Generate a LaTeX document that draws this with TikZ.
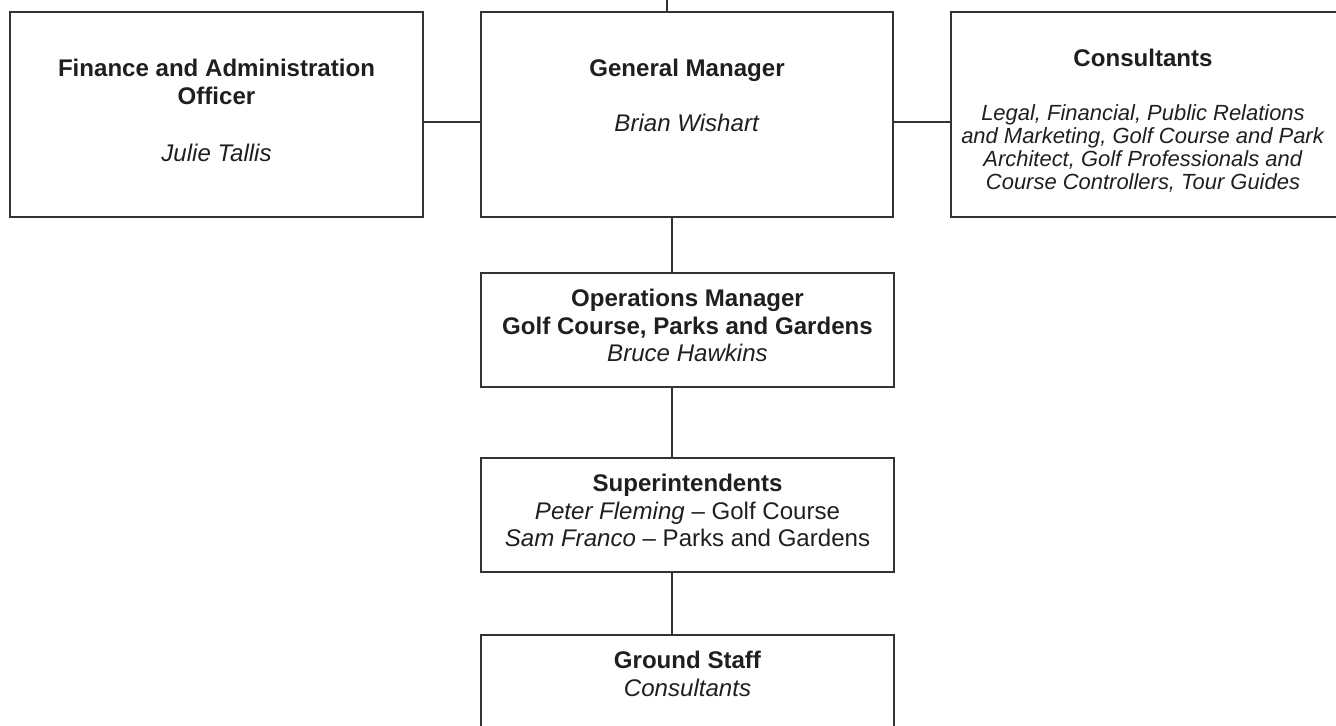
\documentclass[tikz,border=0pt]{standalone}
\usepackage{fontspec}
\setmainfont{Liberation Sans}
\usetikzlibrary{calc}

\tikzset{
  box/.style={draw=black!80, line width=1.2pt, rectangle, inner sep=0pt},
  link/.style={draw=black!80, line width=1pt},
  lbl/.style={anchor=north, inner sep=0pt, align=center, text=black!88,
    font=\fontsize{13.7}{15.6}\selectfont},
  small/.style={font=\fontsize{12.5}{13.1}\selectfont}
}

\begin{document}
\begin{tikzpicture}[x=0.02cm,y=-0.02cm]
\useasboundingbox (0,0) rectangle (1336,726);
\clip (0,0) rectangle (1336,726);

% top row
\node[box, minimum width=8.26cm, minimum height=4.1cm] (fin) at (216.5,114.5) {};
\node[box, minimum width=8.24cm, minimum height=4.1cm] (gm) at (687,114.5) {};
\node[box, minimum width=7.74cm, minimum height=4.1cm] (cons) at (1144.5,114.5) {};

% the column below the general manager
\node[box, minimum width=8.26cm, minimum height=2.28cm] (ops) at (687.5,330) {};
\node[box, minimum width=8.26cm, minimum height=2.28cm] (sup) at (687.5,515) {};
\node[box, minimum width=8.26cm, minimum height=3.3cm] (gnd) at (687.5,717.5) {};

% texts
\node[lbl] (finT) at (216.5,59) {\textbf{Finance and Administration}\\\textbf{Officer}\\[0.59cm]\textit{Julie Tallis}};
\node[lbl] (gmT) at (687,59) {\textbf{General Manager}\\[0.55cm]\textit{Brian Wishart}};
\node[lbl] (consT) at (1143,49) {\textbf{Consultants}};
\node[lbl, small] (consD) at (1143,104) {\textit{Legal, Financial, Public Relations}\\
  \textit{and Marketing, Golf Course and Park}\\
  \textit{Architect, Golf Professionals and}\\
  \textit{Course Controllers, Tour Guides}};
\node[lbl] (opsT) at (687.5,289) {\textbf{Operations Manager}\\\textbf{Golf Course, Parks and Gardens}\\\textit{Bruce Hawkins}};
\node[lbl] (supT) at (687.5,474) {\textbf{Superintendents}\\\textit{Peter Fleming} -- Golf Course\\\textit{Sam Franco} -- Parks and Gardens};
\node[lbl] (gndT) at (687.5,651) {\textbf{Ground Staff}\\\textit{Consultants}};

% connectors
\coordinate (row) at (0,122);
\coordinate (hook) at (667,0);
\coordinate (spine) at (672,0);
\draw[link] (hook) -- (hook |- gm.north);
\draw[link] (fin.east |- row) -- (gm.west |- row);
\draw[link] (gm.east |- row) -- (cons.west |- row);
\draw[link] (spine |- gm.south) -- (spine |- ops.north);
\draw[link] (spine |- ops.south) -- (spine |- sup.north);
\draw[link] (spine |- sup.south) -- (spine |- gnd.north);
\end{tikzpicture}
\end{document}
